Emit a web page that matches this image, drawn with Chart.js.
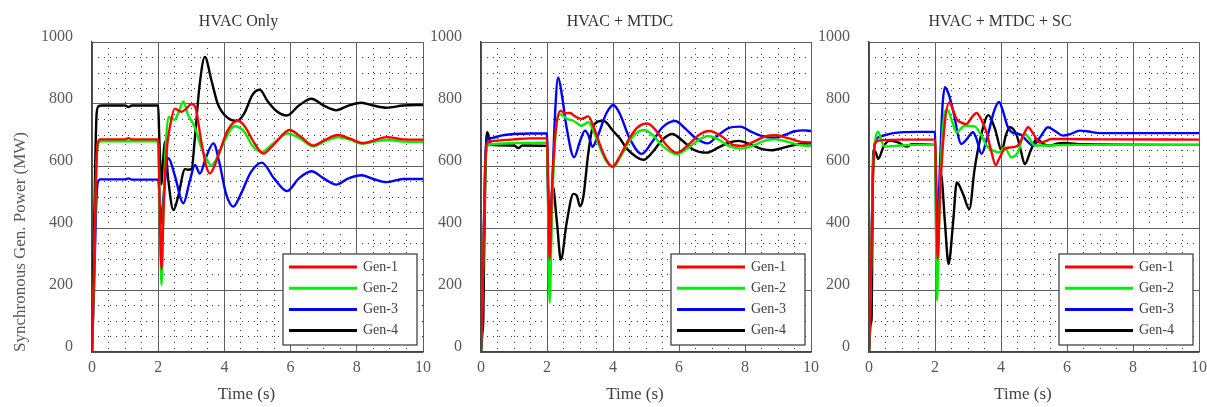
<!DOCTYPE html>
<html>
<head>
<meta charset="utf-8">
<script src="https://cdn.jsdelivr.net/npm/chart.js@4.4.0/dist/chart.umd.min.js"></script>
<style>
  body { margin: 0; background: #fff; width: 1207px; height: 407px; position: relative; overflow: hidden; }
  .panel { position: absolute; top: 0; height: 407px; }
</style>
</head>
<body>
<div class="panel" style="left:0;width:437px"><canvas id="c1" width="437" height="407"></canvas></div>
<div class="panel" style="left:430px;width:395px"><canvas id="c2" width="395" height="407"></canvas></div>
<div class="panel" style="left:818px;width:395px"><canvas id="c3" width="395" height="407"></canvas></div>
<script>
// [time (s), power (MW)]
const genNames = ['Gen-1', 'Gen-2', 'Gen-3', 'Gen-4'];
const genColors = ['#ff0000', '#00f000', '#0000ff', '#000000'];
const panelTitles = ['HVAC Only', 'HVAC + MTDC', 'HVAC + MTDC + SC'];

// HVAC Only
const hvacGen1 = [[0,0],[0.06,250],[0.12,560],[0.17,672],[0.25,686],[1.0,686],[1.1,690],[1.2,686],[2.0,686],[2.04,500],[2.1,268],[2.16,450],[2.25,640],[2.38,740],[2.5,785],[2.7,775],[2.85,785],[3.0,800],[3.12,790],[3.3,680],[3.45,600],[3.56,576],[3.7,600],[3.9,660],[4.1,715],[4.4,746],[4.6,730],[4.9,675],[5.17,640],[5.5,670],[5.97,716],[6.3,695],[6.68,666],[7.05,685],[7.43,700],[7.8,688],[8.19,674],[8.5,682],[8.9,693],[9.4,686],[10,685]];
const hvacGen2 = [[0,0],[0.06,245],[0.12,550],[0.17,665],[0.25,680],[2.0,680],[2.05,450],[2.1,216],[2.15,420],[2.22,650],[2.31,758],[2.4,752],[2.5,750],[2.62,775],[2.76,808],[2.9,765],[3.1,727],[3.3,660],[3.45,625],[3.6,602],[3.8,630],[4.0,680],[4.31,728],[4.6,710],[4.85,665],[5.12,645],[5.5,675],[5.92,705],[6.3,688],[6.68,663],[7.05,680],[7.43,693],[7.8,684],[8.19,672],[8.5,678],[8.9,684],[9.4,679],[10,678]];
const hvacGen3 = [[0,0],[0.06,200],[0.12,450],[0.17,545],[0.25,557],[1.0,557],[1.1,560],[1.2,556],[2.0,556],[2.05,480],[2.1,415],[2.16,500],[2.31,625],[2.5,570],[2.76,480],[2.95,550],[3.11,603],[3.26,576],[3.45,630],[3.67,673],[3.85,610],[4.05,510],[4.27,469],[4.5,510],[4.8,580],[5.13,611],[5.5,560],[5.89,519],[6.25,560],[6.63,583],[7.0,560],[7.38,540],[7.75,560],[8.14,570],[8.5,558],[8.89,548],[9.4,558],[10,558]];
const hvacGen4 = [[0,0],[0.05,300],[0.1,620],[0.14,770],[0.2,793],[0.3,795],[1.0,795],[1.1,790],[1.2,795],[2.0,795],[2.03,700],[2.1,540],[2.15,620],[2.2,678],[2.3,560],[2.46,458],[2.6,500],[2.81,590],[2.9,588],[3.01,590],[3.1,680],[3.25,860],[3.41,952],[3.6,880],[3.8,800],[4.1,755],[4.37,745],[4.6,770],[4.85,830],[5.07,846],[5.3,810],[5.6,775],[5.89,763],[6.25,795],[6.63,817],[7.0,795],[7.38,780],[7.75,795],[8.14,804],[8.5,795],[8.89,788],[9.4,795],[10,797]];

// HVAC + MTDC
const mtdcGen1 = [[0,0],[0.06,250],[0.12,560],[0.17,670],[0.3,680],[1.0,686],[1.5,689],[2.0,689],[2.04,500],[2.08,300],[2.15,520],[2.25,700],[2.41,778],[2.55,770],[2.7,771],[2.85,760],[3.05,752],[3.25,760],[3.4,730],[3.6,670],[3.8,620],[3.99,598],[4.2,630],[4.5,690],[4.75,725],[5.04,737],[5.3,715],[5.6,670],[5.93,643],[6.3,670],[6.6,700],[6.92,713],[7.3,695],[7.6,670],[7.9,665],[8.3,680],[8.6,695],[8.96,699],[9.3,690],[9.7,678],[10,676]];
const mtdcGen2 = [[0,0],[0.06,240],[0.12,540],[0.17,660],[0.3,670],[1.0,674],[2.0,675],[2.04,420],[2.08,159],[2.15,450],[2.25,690],[2.41,767],[2.6,752],[2.8,746],[3.05,730],[3.25,741],[3.4,715],[3.6,660],[3.8,615],[4.01,596],[4.2,625],[4.5,680],[4.7,706],[4.94,716],[5.2,700],[5.5,665],[5.93,638],[6.3,660],[6.6,685],[6.89,697],[7.2,685],[7.5,665],[7.9,656],[8.3,668],[8.6,682],[8.91,686],[9.3,678],[9.7,667],[10,665]];
const mtdcGen3 = [[0,0],[0.06,260],[0.12,580],[0.17,685],[0.3,690],[0.6,698],[1.0,703],[1.5,705],[2.0,705],[2.04,450],[2.08,234],[2.15,500],[2.25,780],[2.34,886],[2.45,830],[2.6,720],[2.82,628],[3.0,680],[3.15,714],[3.25,700],[3.38,662],[3.55,700],[3.8,770],[4.01,797],[4.2,770],[4.5,690],[4.87,639],[5.2,680],[5.5,725],[5.88,745],[6.2,720],[6.5,690],[6.86,673],[7.2,700],[7.5,722],[7.85,727],[8.2,710],[8.5,697],[8.86,691],[9.2,700],[9.5,712],[9.8,715],[10,713]];
const mtdcGen4 = [[0,0],[0.04,60],[0.07,110],[0.1,350],[0.14,620],[0.19,709],[0.25,690],[0.3,668],[1.0,666],[1.13,658],[1.25,666],[2.0,665],[2.04,500],[2.08,365],[2.17,537],[2.3,420],[2.42,298],[2.6,420],[2.8,510],[2.9,505],[3.0,470],[3.1,500],[3.25,640],[3.4,730],[3.71,746],[4.01,712],[4.2,690],[4.42,656],[4.7,630],[4.93,620],[5.2,645],[5.5,685],[5.8,703],[6.1,682],[6.4,655],[6.84,643],[7.2,660],[7.5,675],[7.8,681],[8.2,668],[8.5,655],[8.81,651],[9.2,660],[9.6,670],[10,673]];

// HVAC + MTDC + SC
const scGen1 = [[0,0],[0.06,250],[0.12,560],[0.18,672],[0.3,682],[1.0,685],[2.0,685],[2.04,500],[2.08,300],[2.15,500],[2.28,720],[2.43,805],[2.55,780],[2.65,752],[2.8,740],[2.95,735],[3.1,755],[3.26,771],[3.4,750],[3.56,709],[3.7,650],[3.84,603],[3.95,625],[4.11,655],[4.3,660],[4.52,666],[4.7,705],[4.82,725],[5.0,700],[5.17,676],[5.35,680],[5.52,687],[6.0,687],[7.0,686],[10,685]];
const scGen2 = [[0,0],[0.06,250],[0.12,580],[0.2,690],[0.28,711],[0.38,680],[0.48,663],[0.8,665],[1.3,668],[2.0,668],[2.03,400],[2.06,166],[2.12,400],[2.22,700],[2.37,782],[2.5,750],[2.65,709],[2.9,730],[3.2,728],[3.4,700],[3.56,666],[3.75,650],[3.94,644],[4.11,660],[4.31,628],[4.51,644],[4.72,703],[4.85,690],[5.02,666],[5.3,666],[6.0,668],[10,668]];
const scGen3 = [[0,0],[0.06,260],[0.12,590],[0.2,680],[0.28,692],[0.5,700],[0.73,706],[1.5,710],[2.0,710],[2.03,450],[2.05,235],[2.12,500],[2.22,780],[2.3,854],[2.42,830],[2.55,778],[2.8,671],[2.95,685],[3.15,709],[3.25,690],[3.41,639],[3.6,700],[3.8,780],[3.94,807],[4.05,780],[4.21,725],[4.4,705],[4.57,703],[4.75,685],[4.97,666],[5.2,695],[5.42,725],[5.65,712],[5.88,698],[6.1,703],[6.39,714],[6.6,712],[7.0,706],[10,706]];
const scGen4 = [[0,0],[0.05,90],[0.08,110],[0.1,350],[0.13,649],[0.2,645],[0.28,623],[0.45,665],[0.64,682],[0.9,675],[1.14,663],[1.3,670],[2.0,668],[2.04,520],[2.08,381],[2.18,574],[2.3,420],[2.41,284],[2.55,420],[2.66,547],[2.85,510],[3.04,461],[3.2,590],[3.37,687],[3.62,764],[3.82,719],[4.02,649],[4.15,700],[4.27,725],[4.48,698],[4.6,650],[4.72,606],[4.9,650],[5.08,687],[5.3,670],[5.47,666],[5.7,672],[5.88,674],[6.5,670],[10,668]];

const FONT = 'Liberation Serif';

// legend box drawn inside the plot, lower right
const legendBox = {
    id: 'legendBox',
    afterDraw(chart) {
        const { ctx, chartArea } = chart;
        const w = 134, h = 91;
        const left = chartArea.right - 6 - w;
        const top = chartArea.bottom - 7 - h;
        ctx.save();
        ctx.fillStyle = '#fff';
        ctx.fillRect(left, top, w, h);
        ctx.strokeStyle = '#444';
        ctx.lineWidth = 1.3;
        ctx.strokeRect(left, top, w, h);
        ctx.font = '14px "' + FONT + '"';
        ctx.textBaseline = 'middle';
        chart.data.datasets.forEach((ds, i) => {
            const y = top + 13 + i * 21.2;
            ctx.strokeStyle = ds.borderColor;
            ctx.lineWidth = 3;
            ctx.beginPath();
            ctx.moveTo(left + 6, y);
            ctx.lineTo(left + 74, y);
            ctx.stroke();
            ctx.fillStyle = '#404040';
            ctx.fillText(ds.label, left + 80, y);
        });
        ctx.restore();
    }
};

// panel title and x axis title, both a little left of the plot centre
const panelText = {
    id: 'panelText',
    afterDraw(chart, args, opts) {
        const { ctx, chartArea } = chart;
        const mid = (chartArea.left + chartArea.right) / 2;
        ctx.save();
        ctx.textAlign = 'center';
        ctx.textBaseline = 'middle';
        ctx.fillStyle = '#333';
        ctx.font = '16px "' + FONT + '"';
        ctx.fillText(opts.title, mid + opts.titleDx, 22);
        ctx.fillStyle = '#404040';
        ctx.font = '17px "' + FONT + '"';
        ctx.fillText('Time (s)', mid - 11, 395);
        ctx.restore();
    }
};

function makeChart(id, title, titleDx, series, yWidth, showYTitle) {
    const datasets = series.map((pts, i) => ({
        label: genNames[i],
        data: pts.map(p => ({ x: p[0], y: p[1] })),
        borderColor: genColors[i],
        borderWidth: 2.4,
        pointRadius: 0,
        cubicInterpolationMode: 'monotone',
        fill: false
    }));
    const tickFont = { family: FONT, size: 16 };
    return new Chart(document.getElementById(id), {
        type: 'line',
        data: { datasets },
        options: {
            responsive: false,
            animation: false,
            layout: { padding: { left: 0, right: 0, top: 42, bottom: 0 } },
            plugins: {
                legend: { display: false },
                tooltip: { enabled: false },
                title: { display: false },
                panelText: { title: title, titleDx: titleDx }
            },
            scales: {
                x: {
                    type: 'linear', min: 0, max: 10,
                    ticks: { stepSize: 2, padding: 6, color: '#595959', font: tickFont, maxRotation: 0, callback: v => String(v) },
                    grid: { color: '#5f5f5f', lineWidth: 1, drawTicks: false },
                    border: { color: '#444', width: 1.5 },
                    afterFit: s => { s.height = 55; }
                },
                xm: {
                    type: 'linear', position: 'bottom', min: 0, max: 10,
                    ticks: { stepSize: 0.5, display: false },
                    grid: { drawTicks: false, lineWidth: 1, color: c => (c.tick && c.tick.value % 2 === 0) ? 'rgba(0,0,0,0)' : '#3a3a3a' },
                    border: { display: false, dash: [1, 5] },
                    afterFit: s => { s.height = 0; }
                },
                y: {
                    type: 'linear', min: 0, max: 1000,
                    ticks: { stepSize: 200, padding: 19, labelOffset: -5, color: '#595959', font: tickFont, callback: v => String(v) },
                    grid: { color: '#5f5f5f', lineWidth: 1, drawTicks: false },
                    border: { color: '#444', width: 1.5 },
                    title: {
                        display: showYTitle, text: 'Synchronous Gen. Power (MW)', align: 'start',
                        color: '#595959', font: { family: FONT, size: 17, lineHeight: 1.2 },
                        padding: { top: 10, bottom: 0 }
                    },
                    afterFit: s => { s.width = yWidth; }
                },
                ym: {
                    type: 'linear', position: 'left', min: 0, max: 1000,
                    ticks: { stepSize: 50, display: false },
                    grid: { drawTicks: false, lineWidth: 1, color: c => (c.tick && c.tick.value % 200 === 0) ? 'rgba(0,0,0,0)' : '#3a3a3a' },
                    border: { display: false, dash: [1, 5] },
                    afterFit: s => { s.width = 0; }
                }
            }
        },
        plugins: [legendBox, panelText]
    });
}

makeChart('c1', panelTitles[0], -19, [hvacGen1, hvacGen2, hvacGen3, hvacGen4], 92, true);
makeChart('c2', panelTitles[1], -26, [mtdcGen1, mtdcGen2, mtdcGen3, mtdcGen4], 51, false);
makeChart('c3', panelTitles[2], -34, [scGen1, scGen2, scGen3, scGen4], 51, false);
</script>
</body>
</html>
